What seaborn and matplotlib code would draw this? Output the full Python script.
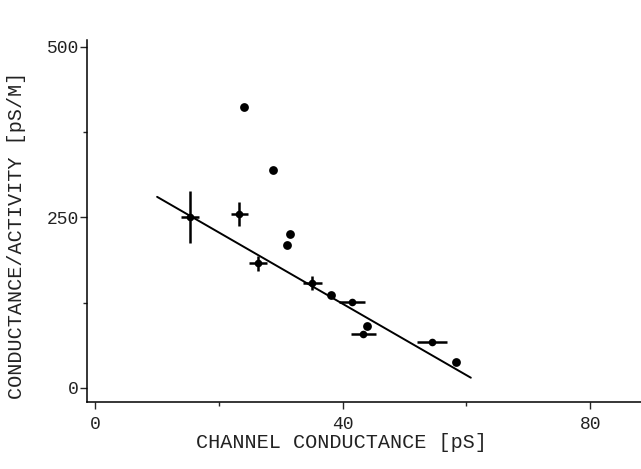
import numpy as np
import pandas as pd
import matplotlib
matplotlib.use("Agg")
import matplotlib.pyplot as plt
import seaborn as sns
from matplotlib.ticker import MultipleLocator

# --- DATA ---
# points with error bars
err_x = [15.3, 23.3, 26.3, 35.1, 41.5, 43.3, 54.4]
err_y = [251, 255, 183, 154, 126, 79, 67]
err_dx = [1.4, 1.4, 1.5, 1.5, 2.1, 2.0, 2.4]
err_dy = [38, 18, 11, 10, 3, 2, 2]

# plain points
dot_x = [24.1, 28.8, 31.5, 31.0, 38.1, 43.9, 58.3]
dot_y = [412, 320, 226, 210, 136, 91, 38]

# fitted line end points
fit_x = [10.0, 60.7]
fit_y = [280, 15]

x_ticks = [0, 40, 80]
y_ticks = [0, 250, 500]

sns.set_style("ticks")
plt.rcParams['font.family'] = ['Liberation Mono', 'DejaVu Sans Mono']

fig = plt.figure(figsize=(6.41, 4.69), dpi=100)
ax = fig.add_axes([0.136, 0.143, 0.864, 0.772])

df_fit = pd.DataFrame({'x': fit_x, 'y': fit_y})
sns.lineplot(data=df_fit, x='x', y='y', color='black', linewidth=1.4, ax=ax)

ax.errorbar(err_x, err_y, xerr=err_dx, yerr=err_dy, fmt='none',
            ecolor='black', elinewidth=1.8, capsize=0)
df_err = pd.DataFrame({'x': err_x, 'y': err_y})
sns.scatterplot(data=df_err, x='x', y='y', marker='o', s=30, color='black',
                edgecolor='black', linewidth=0, ax=ax)

df_dot = pd.DataFrame({'x': dot_x, 'y': dot_y})
sns.scatterplot(data=df_dot, x='x', y='y', s=40, color='black',
                edgecolor='black', linewidth=0, ax=ax)

ax.set_xlim(-1.3, 88.2)
ax.set_ylim(-20.5, 510)
ax.set_xticks(x_ticks)
ax.set_yticks(y_ticks)
ax.xaxis.set_minor_locator(MultipleLocator(20))
ax.yaxis.set_minor_locator(MultipleLocator(125))
ax.tick_params(which='major', length=5, width=1.0, labelsize=13,
               labelcolor='#222222')
ax.tick_params(axis='y', which='major', pad=1)
ax.tick_params(axis='x', which='major', pad=5)
ax.tick_params(which='minor', length=3, width=1.0)

sns.despine(ax=ax)
for s in ['left', 'bottom']:
    ax.spines[s].set_linewidth(1.1)
    ax.spines[s].set_color('black')

ax.set_xlabel("CHANNEL CONDUCTANCE [pS]", fontsize=14.5, color='#222222')
ax.set_ylabel("CONDUCTANCE/ACTIVITY [pS/M]", fontsize=14.5, color='#222222')
ax.xaxis.set_label_coords(0.46, -0.085)
ax.yaxis.set_label_coords(-0.11, 0.46)

fig.savefig("out.png", dpi=100)
